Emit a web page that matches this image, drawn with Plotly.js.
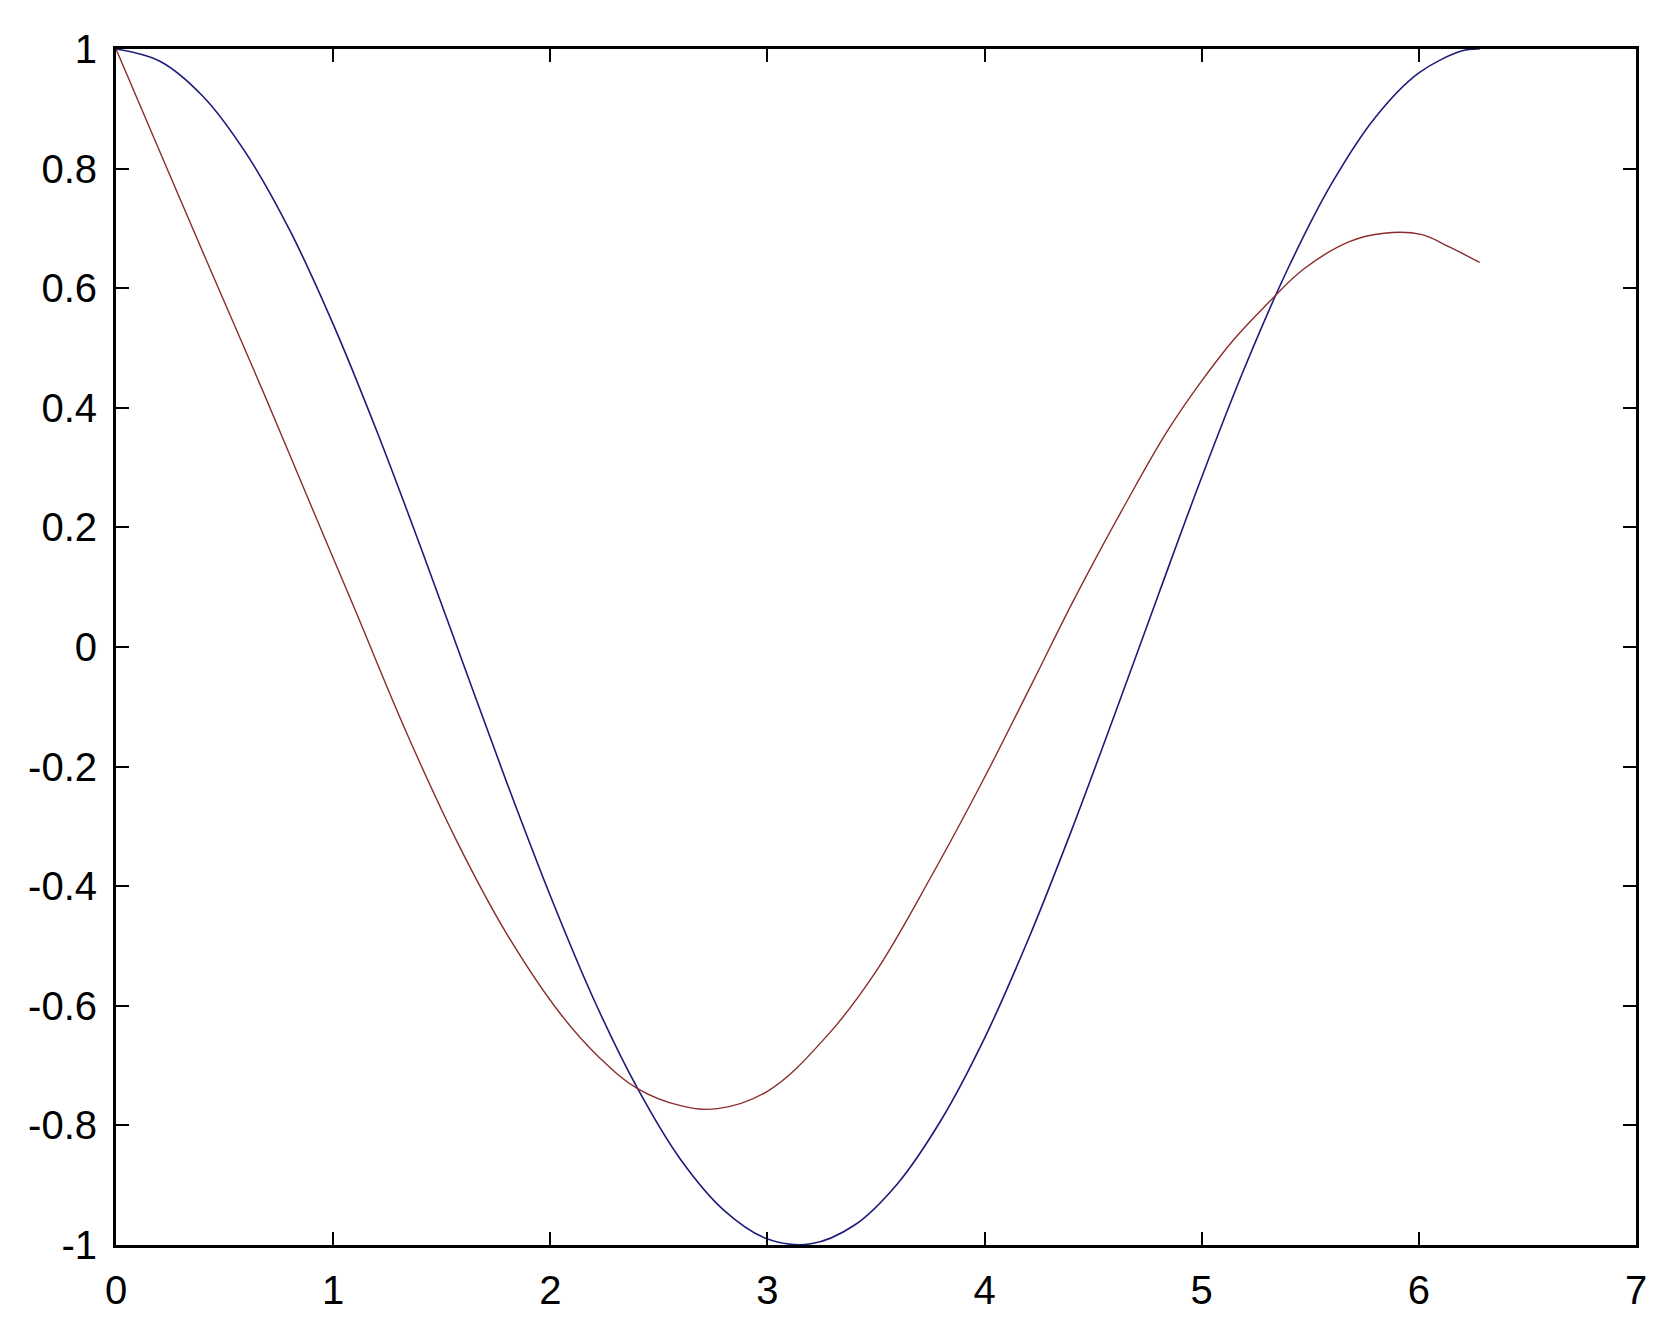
<!DOCTYPE html>
<html>
<head>
<meta charset="utf-8">
<script src="https://cdn.plot.ly/plotly-3.0.1.min.js"></script>
<style>html,body{margin:0;padding:0;background:#fff;}#chart{width:1673px;height:1317px;}</style>
</head>
<body>
<div id="chart"></div>
<script>
// Blue curve
var blueX = [0, 0.2, 0.4, 0.6, 0.8, 1.0, 1.2, 1.4, 1.6, 1.8, 2.0, 2.2, 2.4, 2.6, 2.8, 3.0, 3.2, 3.4, 3.6, 3.8, 4.0, 4.2, 4.4, 4.6, 4.8, 5.0, 5.2, 5.4, 5.6, 5.8, 6.0, 6.2, 6.28];
var blueY = [1, 0.980, 0.921, 0.825, 0.697, 0.540, 0.362, 0.170, -0.029, -0.227, -0.416, -0.589, -0.737, -0.857, -0.942, -0.990, -0.998, -0.967, -0.897, -0.791, -0.654, -0.490, -0.307, -0.112, 0.087, 0.284, 0.469, 0.635, 0.776, 0.886, 0.960, 0.997, 1.0];

// Red curve
var redX = [0, 0.2, 0.43, 0.68, 0.9, 1.1, 1.34, 1.57, 1.8, 2.05, 2.23, 2.4, 2.6, 2.77, 3.0, 3.27, 3.49, 3.76, 3.99, 4.22, 4.42, 4.65, 4.84, 4.99, 5.15, 5.3, 5.47, 5.68, 5.84, 6.01, 6.14, 6.28];
var redY = [1, 0.83, 0.635, 0.425, 0.235, 0.063, -0.145, -0.325, -0.48, -0.615, -0.688, -0.738, -0.767, -0.772, -0.743, -0.652, -0.548, -0.38, -0.225, -0.06, 0.085, 0.24, 0.36, 0.44, 0.515, 0.573, 0.632, 0.678, 0.692, 0.690, 0.669, 0.643];

var xTicks = [0, 1, 2, 3, 4, 5, 6, 7];
var yTicks = [-1, -0.8, -0.6, -0.4, -0.2, 0, 0.2, 0.4, 0.6, 0.8, 1];
var yTickText = ['-1', '-0.8', '-0.6', '-0.4', '-0.2', '0', '0.2', '0.4', '0.6', '0.8', '1'];

var traces = [
  {x: blueX, y: blueY, type: 'scatter', mode: 'lines', line: {color: '#1c1c7a', width: 1.6, shape: 'spline'}, hoverinfo: 'none'},
  {x: redX, y: redY, type: 'scatter', mode: 'lines', line: {color: '#8a2c2c', width: 1.4, shape: 'spline', smoothing: 1.1}, hoverinfo: 'none'}
];

var axisFont = {family: 'Liberation Sans, Arial, sans-serif', size: 40, color: '#000'};

var layout = {
  width: 1673, height: 1317,
  margin: {l: 116, r: 37, t: 49, b: 72, pad: 0},
  paper_bgcolor: '#fff', plot_bgcolor: '#fff',
  showlegend: false,
  xaxis: {
    range: [0, 7], tickvals: xTicks, ticktext: xTicks.map(String),
    ticks: 'inside', ticklen: 13, tickwidth: 2, tickcolor: '#000',
    showline: true, linecolor: '#000', linewidth: 3, mirror: 'allticks',
    showgrid: false, zeroline: false, tickfont: axisFont, ticklabelstandoff: 8
  },
  yaxis: {
    range: [-1, 1], tickvals: yTicks, ticktext: yTickText,
    ticks: 'inside', ticklen: 13, tickwidth: 2, tickcolor: '#000',
    showline: true, linecolor: '#000', linewidth: 3, mirror: 'allticks',
    showgrid: false, zeroline: false, tickfont: axisFont, ticklabelstandoff: 8
  }
};

Plotly.newPlot('chart', traces, layout, {displayModeBar: false, staticPlot: true});
</script>
</body>
</html>
